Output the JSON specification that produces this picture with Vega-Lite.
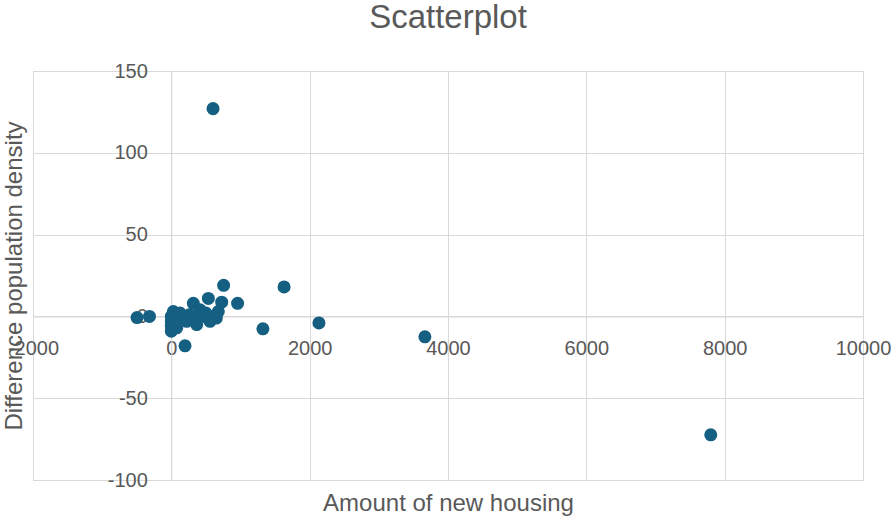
{
  "$schema": "https://vega.github.io/schema/vega-lite/v6.json",
  "width": 830,
  "height": 409,
  "autosize": "none",
  "padding": {"left": 33, "top": 71, "right": 32, "bottom": 38},
  "background": "white",
  "title": {
    "text": "Scatterplot",
    "font": "Liberation Sans",
    "fontSize": 33,
    "fontWeight": "normal",
    "color": "#595959",
    "anchor": "middle",
    "baseline": "alphabetic",
    "offset": 0
  },
  "config": {
    "view": {"stroke": "#d9d9d9"},
    "axis": {
      "labelFont": "Liberation Sans",
      "titleFont": "Liberation Sans",
      "labelColor": "#595959",
      "titleColor": "#595959",
      "labelFontSize": 20,
      "titleFontSize": 24,
      "titleFontWeight": "normal",
      "gridColor": "#d9d9d9",
      "gridWidth": 1,
      "domainColor": "#d9d9d9",
      "domainWidth": 1,
      "ticks": false
    }
  },
  "data": {
    "values": [
      {"housing": -496, "density": -0.7},
      {"housing": -316, "density": 0},
      {"housing": 0, "density": 0},
      {"housing": 0, "density": -3},
      {"housing": 0, "density": -6},
      {"housing": 0, "density": -9},
      {"housing": 29, "density": 3},
      {"housing": 30, "density": -3},
      {"housing": 78, "density": -7},
      {"housing": 60, "density": 1},
      {"housing": 126, "density": 2},
      {"housing": 150, "density": -1},
      {"housing": 222, "density": -3},
      {"housing": 198, "density": -18},
      {"housing": 260, "density": 1},
      {"housing": 318, "density": 8},
      {"housing": 300, "density": -2},
      {"housing": 367, "density": -5},
      {"housing": 415, "density": 4},
      {"housing": 462, "density": 0},
      {"housing": 500, "density": 2},
      {"housing": 535, "density": 11},
      {"housing": 559, "density": -3},
      {"housing": 607, "density": 0},
      {"housing": 679, "density": 3},
      {"housing": 650, "density": -1},
      {"housing": 728, "density": 8.7},
      {"housing": 756, "density": 19},
      {"housing": 958, "density": 8},
      {"housing": 603, "density": 127},
      {"housing": 1324, "density": -7.6},
      {"housing": 1630, "density": 18},
      {"housing": 2134, "density": -4},
      {"housing": 3666, "density": -12.5},
      {"housing": 7799, "density": -72.4}
    ]
  },
  "mark": {"type": "circle", "size": 170, "color": "#156082", "opacity": 1},
  "encoding": {
    "x": {
      "field": "housing",
      "type": "quantitative",
      "scale": {"domain": [-2000, 10000], "nice": false, "zero": false},
      "axis": {
        "title": "Amount of new housing",
        "values": [-2000, 0, 2000, 4000, 6000, 8000, 10000],
        "labelExpr": "'' + datum.value",
        "offset": -163.5,
        "labelPadding": 22,
        "labelBaseline": "top",
        "labelFlush": false,
        "labelOverlap": false,
        "titleBaseline": "alphabetic",
        "titleY": 193.5,
        "titleX": 415
      }
    },
    "y": {
      "field": "density",
      "type": "quantitative",
      "scale": {"domain": [-100, 150], "nice": false, "zero": false},
      "axis": {
        "title": "Difference population density",
        "values": [-100, -50, 0, 50, 100, 150],
        "labelExpr": "'' + datum.value",
        "offset": -138.3,
        "labelPadding": 24,
        "labelFlush": false,
        "labelOverlap": false,
        "titleBaseline": "middle",
        "titleX": -157,
        "titleY": 204.5
      }
    }
  }
}
